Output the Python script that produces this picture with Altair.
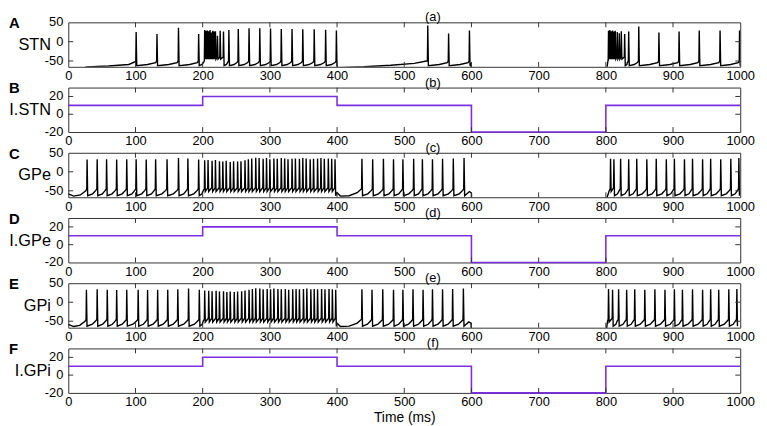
import altair as alt
import pandas as pd

# ---------------- data ----------------
x_ticks = [0, 100, 200, 300, 400, 500, 600, 700, 800, 900, 1000]
x_inner = [100, 200, 300, 400, 500, 600, 700, 800, 900]

# injected currents (step levels between change times)
current_times = [0, 200, 400, 600, 800, 1000]
current_levels = [10, 20, 10, -20, 10, 10]

# STN spike times (ms) and peak voltages (mV)
stn_spikes = [101, 132, 164, 194,
              203, 205, 207, 209, 211, 213, 215, 217, 219, 222, 226, 231, 239,
              253, 269, 285, 301, 317, 333, 349, 366, 383, 399,
              535, 566, 597,
              804, 806, 808, 810, 812, 814, 817, 820, 823, 828, 834,
              849, 879, 909, 939, 970, 999]
stn_peaks = [25, 20, 36, 20,
             30, 28, 29, 27, 30, 24, 28, 26, 27, 15, 28, 26, 30,
             33, 35, 35, 34, 33, 33, 32, 32, 31, 29,
             42, 21, 29,
             28, 30, 27, 29, 26, 28, 25, 22, 27, 20, 26,
             39, 24, 26, 29, 29, 29]
# slow membrane baseline in the quiet stretches (time, mV)
stn_knots = [(0, -90), (27, -65), (60, -63), (90, -59), (99, -52),
             (401, -67), (440, -65), (480, -61), (515, -56), (533, -50),
             (599, -55), (600.6, -130), (800, -130), (801.5, -70), (803.5, -45)]

# GPe spike times and peaks
gpe_spikes = [28, 43, 57, 72, 87, 101, 116, 130, 147, 164, 178, 194,
              203, 208, 214, 219, 225, 230, 235, 241, 246, 252, 257, 263, 268,
              273, 279, 284, 290, 295, 300, 306, 311, 317, 322, 327, 333, 338,
              344, 349, 354, 360, 365, 371, 376, 381, 387, 392, 397,
              437, 453, 469, 484, 498, 514, 527, 542, 557, 573, 589,
              807, 812, 822, 834, 846, 861, 875, 890, 902, 917, 929, 944, 956,
              971, 986, 998]
gpe_peaks = [32, 33, 33, 32, 33, 33, 32, 33, 33, 36, 35, 32,
             30, 31, 29, 31, 28, 27, 29, 26, 28, 27, 28, 30, 33,
             35, 37, 36, 34, 36, 33, 35, 34, 36, 35, 33, 34, 35,
             34, 36, 35, 33, 34, 35, 36, 34, 35, 34, 33,
             34, 33, 34, 33, 33, 34, 33, 33, 34, 35, 36,
             34, 33, 34, 33, 34, 33, 34, 33, 34, 33, 34, 33, 34,
             33, 34, 36]
gpe_knots = [(0, -58), (8, -64), (18, -61), (26, -50),
             (400, -55), (405, -64), (418, -63), (430, -55), (435.5, -46),
             (597, -52), (600, -56), (600.8, -130), (800, -130), (801, -72), (805, -50)]

# GPi spike times and peaks
gpi_spikes = [27, 43, 58, 72, 87, 104, 118, 133, 148, 163, 179, 195,
              203, 209, 214, 220, 225, 231, 236, 241, 247, 252, 258, 263, 269,
              274, 279, 285, 290, 296, 301, 306, 312, 317, 323, 328, 334, 339,
              344, 350, 355, 361, 366, 371, 377, 382, 388, 393, 398,
              437, 452, 468, 484, 498, 513, 528, 542, 557, 572, 588,
              804, 810, 819, 831, 843, 858, 873, 888, 902, 914, 929, 944, 956,
              968, 983, 995]
gpi_peaks = [33, 34, 33, 32, 33, 33, 32, 33, 33, 34, 36, 33,
             31, 30, 29, 30, 28, 29, 27, 28, 27, 28, 29, 31, 33,
             35, 37, 36, 34, 35, 34, 36, 35, 34, 35, 33, 34, 35,
             34, 35, 36, 34, 35, 34, 35, 34, 35, 34, 33,
             34, 33, 34, 33, 33, 34, 33, 34, 34, 35, 36,
             35, 33, 34, 33, 34, 33, 34, 33, 34, 33, 34, 33, 34,
             33, 34, 35]
gpi_knots = [(0, -58), (8, -64), (17, -61), (25, -50),
             (400, -55), (405, -64), (418, -63), (430, -55), (435.5, -46),
             (596, -52), (599.5, -56), (600.3, -130), (800, -130), (801, -72), (802.5, -50)]

W, H = 680, 45
FRAME = "#333333"
PURPLE = "#7b2fe0"


def trace(spikes, peaks, knots, burst_gap, trough, mid, pre, b_trough, b_pre):
    pts = [tuple(k) for k in knots]
    ktimes = [k[0] for k in knots]
    n = len(spikes)
    for i, t in enumerate(spikes):
        prev_gap = t - spikes[i - 1] if i > 0 else 999
        next_gap = spikes[i + 1] - t if i + 1 < n else 999
        pts.append((t - 0.5, b_pre if prev_gap < burst_gap else pre))
        pts.append((t, peaks[i]))
        pts.append((t + 0.9, b_trough if next_gap < burst_gap else trough))
        if i + 1 < n:
            nt = spikes[i + 1]
            if next_gap >= burst_gap and not any(t < k < nt for k in ktimes):
                pts.append((t + 0.55 * next_gap, mid))
                pts.append((nt - 2.0, pre - 4))
    pts.sort(key=lambda p: p[0])
    return pd.DataFrame({"t": [p[0] for p in pts], "v": [p[1] for p in pts],
                         "i": list(range(len(pts)))})


stn_df = trace(stn_spikes, stn_peaks, stn_knots, 6, -62, -59, -50, -45, -40)
gpe_df = trace(gpe_spikes, gpe_peaks, gpe_knots, 8, -63, -58, -45, -52, -42)
gpi_df = trace(gpi_spikes, gpi_peaks, gpi_knots, 8, -63, -58, -45, -52, -42)
cur_df = pd.DataFrame({"t": current_times, "v": current_levels,
                       "i": list(range(len(current_times)))})


def panel(df, color, ydom, yvals, yinner, ylab, letter, sub, xtitle=None, clip=True, sw=1.4):
    xax = alt.Axis(values=x_ticks, format="d", domain=False, ticks=False, grid=False,
                   labelFlush=False, labelOverlap=False,
                   labelPadding=3, labelFontSize=13, title=xtitle, titleFontSize=14,
                   titleFontWeight="normal", titlePadding=2)
    yax = alt.Axis(values=yvals, domain=False, ticks=False, grid=False, labels=False,
                   title=ylab, titleAngle=0, titleAlign="right",
                   titleBaseline="middle", titleX=-18, titleY=H / 2, titleFontSize=16.5,
                   titleFontWeight="normal")
    xs = alt.Scale(domain=[0, 1000], nice=False, zero=False)
    ys = alt.Scale(domain=ydom, nice=False, zero=False)
    line = alt.Chart(df).mark_line(color=color, strokeWidth=sw, clip=clip,
                                   interpolate="linear" if color == "black" else "step-after").encode(
        x=alt.X("t:Q", scale=xs, axis=xax),
        y=alt.Y("v:Q", scale=ys, axis=yax),
        order="i:Q")
    xt = pd.DataFrame({"t": x_inner})
    yt = pd.DataFrame({"v": yinner})
    yl = pd.DataFrame({"v": yvals, "lab": [str(v) for v in yvals]})
    tick_top = alt.Chart(xt).mark_rule(color=FRAME, strokeWidth=1).encode(
        x=alt.X("t:Q", scale=xs), y=alt.value(0), y2=alt.value(5))
    tick_bot = alt.Chart(xt).mark_rule(color=FRAME, strokeWidth=1).encode(
        x=alt.X("t:Q", scale=xs), y=alt.value(H), y2=alt.value(H - 5))
    tick_l = alt.Chart(yt).mark_rule(color=FRAME, strokeWidth=1).encode(
        y=alt.Y("v:Q", scale=ys), x=alt.value(0), x2=alt.value(5))
    tick_r = alt.Chart(yt).mark_rule(color=FRAME, strokeWidth=1).encode(
        y=alt.Y("v:Q", scale=ys), x=alt.value(W), x2=alt.value(W - 5))
    ylabels = alt.Chart(yl).mark_text(
        align="right", baseline="middle", fontSize=13, font="Liberation Sans",
        color="black").encode(
        y=alt.Y("v:Q", scale=ys), x=alt.value(-5), text="lab:N")
    let = alt.Chart(pd.DataFrame({"s": [letter]})).mark_text(
        align="left", baseline="top", fontSize=15, fontWeight="bold",
        font="Liberation Sans", color="black").encode(
        text="s:N", x=alt.value(-60), y=alt.value(-6))
    st = alt.Chart(pd.DataFrame({"s": [sub]})).mark_text(
        align="center", baseline="alphabetic", fontSize=13,
        font="Liberation Sans", color="black").encode(
        text="s:N", x=alt.value(369), y=alt.value(-1))
    return alt.layer(line, tick_top, tick_bot, tick_l, tick_r, ylabels, let, st).properties(
        width=W, height=H)


panels = [
    panel(stn_df, "black", [-65, 50], [-50, 0, 50], [-50, 0], "STN", "A", "(a)"),
    panel(cur_df, PURPLE, [-20, 30], [-20, 0, 20], [0, 20], "I.STN", "B", "(b)", clip=False, sw=1.6),
    panel(gpe_df, "black", [-67, 50], [-50, 0, 50], [-50, 0], "GPe", "C", "(c)"),
    panel(cur_df, PURPLE, [-20, 30], [-20, 0, 20], [0, 20], "I.GPe", "D", "(d)", clip=False, sw=1.6),
    panel(gpi_df, "black", [-67, 50], [-50, 0, 50], [-50, 0], "GPi", "E", "(e)"),
    panel(cur_df, PURPLE, [-20, 30], [-20, 0, 20], [0, 20], "I.GPi", "F", "(f)",
          xtitle="Time (ms)", clip=False, sw=1.6),
]

chart = alt.vconcat(*panels, spacing=21, bounds="flush").properties(
    padding={"left": 0, "top": 0, "right": 4, "bottom": 0}
).configure_view(stroke=FRAME, strokeWidth=1).configure_axis(
    labelFont="Liberation Sans", titleFont="Liberation Sans",
    labelColor="black", titleColor="black")

chart.save("out.html", embed_options={"renderer": "svg", "actions": False})
